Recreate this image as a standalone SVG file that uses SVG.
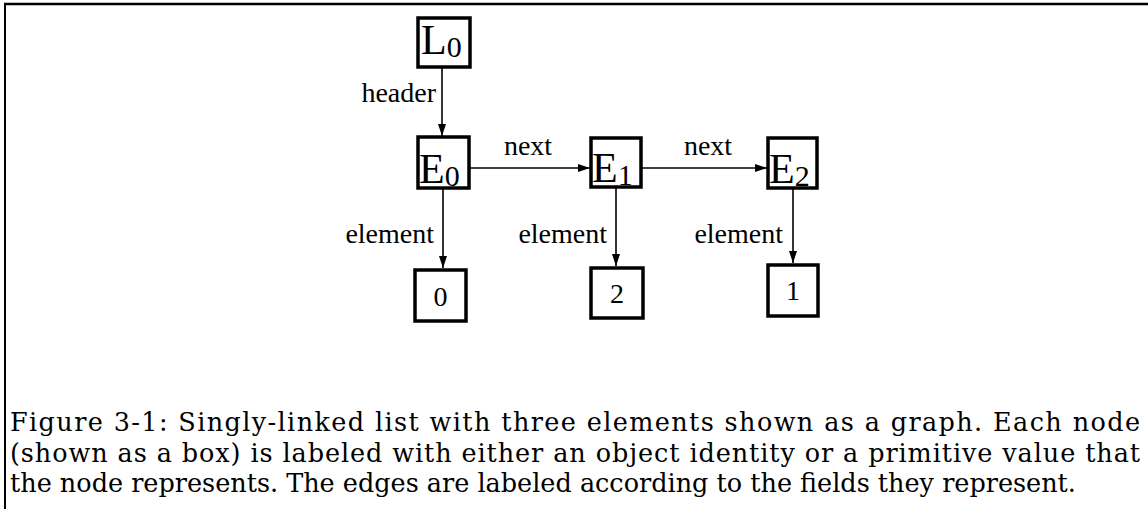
<svg xmlns="http://www.w3.org/2000/svg" width="1148" height="509" viewBox="0 0 1148 509">
<style>
.box{fill:#fff;stroke:#000;stroke-width:3.5}
.big{font-family:"Liberation Serif",serif;font-size:42px;fill:#000}
.sub{font-family:"Liberation Serif",serif;font-size:30px;fill:#000}
.lbl{font-family:"Liberation Serif",serif;font-size:28px;fill:#000}
.cap{font-family:"DejaVu Serif","Liberation Serif",serif;font-size:25.5px;fill:#000}
.edge{stroke:#000;stroke-width:1.6;fill:none}
</style>
<defs>
<marker id="ah" markerWidth="12" markerHeight="8" refX="12" refY="4" orient="auto" markerUnits="userSpaceOnUse">
<path d="M0,0 L12,4 L0,8 Z" fill="#000"/>
</marker>
</defs>
<rect x="0" y="0" width="1148" height="509" fill="#fff"/>
<g id="frame">
<line x1="4" y1="4" x2="1148" y2="4" stroke="#000" stroke-width="2.5"/>
<line x1="5" y1="4" x2="5" y2="509" stroke="#000" stroke-width="2"/>
</g>
<g id="connectors">
<line class="edge" x1="442" y1="67" x2="442" y2="136" marker-end="url(#ah)"/>
<text class="lbl" x="436" y="102" text-anchor="end">header</text>
<line class="edge" x1="469" y1="168" x2="590" y2="168" marker-end="url(#ah)"/>
<text class="lbl" x="528" y="155" text-anchor="middle">next</text>
<line class="edge" x1="641" y1="168" x2="767" y2="168" marker-end="url(#ah)"/>
<text class="lbl" x="708" y="155" text-anchor="middle">next</text>
<line class="edge" x1="443" y1="188" x2="443" y2="268" marker-end="url(#ah)"/>
<text class="lbl" x="434" y="243" text-anchor="end">element</text>
<line class="edge" x1="616" y1="187" x2="616" y2="266" marker-end="url(#ah)"/>
<text class="lbl" x="607" y="243" text-anchor="end">element</text>
<line class="edge" x1="793" y1="188" x2="793" y2="263" marker-end="url(#ah)"/>
<text class="lbl" x="783" y="243" text-anchor="end">element</text>
</g>
<g id="L0">
<rect class="box" x="418" y="18" width="52" height="49"/>
<text class="big" x="421" y="54">L<tspan class="sub" dy="3">0</tspan></text>
</g>
<g id="E0">
<rect class="box" x="418" y="137" width="51" height="51"/>
<text class="big" x="419" y="183">E<tspan class="sub" dy="3">0</tspan></text>
</g>
<g id="E1">
<rect class="box" x="591" y="138" width="50" height="49"/>
<text class="big" x="592" y="182">E<tspan class="sub" dy="3">1</tspan></text>
</g>
<g id="E2">
<rect class="box" x="768" y="138" width="49" height="50"/>
<text class="big" x="769" y="183">E<tspan class="sub" dy="3">2</tspan></text>
</g>
<g id="V0">
<rect class="box" x="415" y="270" width="51" height="51"/>
<text class="lbl" x="440.5" y="306" text-anchor="middle">0</text>
</g>
<g id="V2">
<rect class="box" x="591" y="268" width="52" height="50"/>
<text class="lbl" x="617" y="303" text-anchor="middle">2</text>
</g>
<g id="V1">
<rect class="box" x="768" y="265" width="50" height="51"/>
<text class="lbl" x="793" y="300" text-anchor="middle">1</text>
</g>
<g id="caption">
<text class="cap" x="10" y="431" textLength="1130" lengthAdjust="spacing">Figure 3-1:  Singly-linked list with three elements shown as a graph.  Each node</text>
<text class="cap" x="10" y="462" textLength="1130" lengthAdjust="spacing">(shown as a box) is labeled with either an object identity or a primitive value that</text>
<text class="cap" x="10" y="492">the node represents.  The edges are labeled according to the fields they represent.</text>
</g>
</svg>
